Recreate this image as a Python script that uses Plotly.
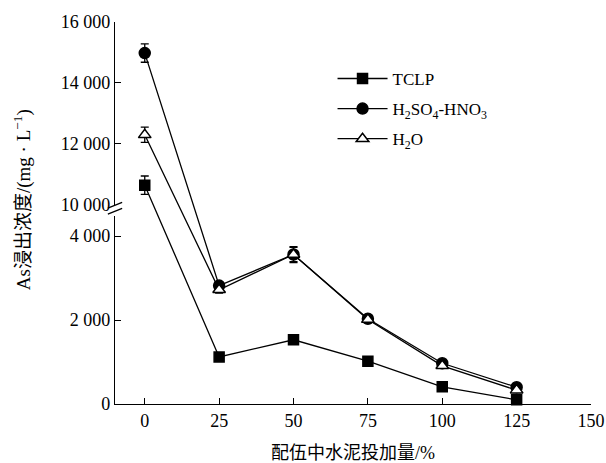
import plotly.graph_objects as go

# ---- data ----
dosage = [0, 25, 50, 75, 100, 125]
tclp = [10650, 1120, 1530, 1020, 410, 100]
tclp_err = [300, 40, 50, 40, 40, 60]
acid = [14980, 2820, 3560, 2030, 970, 400]
acid_err = [300, 80, 170, 80, 60, 50]
water = [12300, 2720, 3560, 2010, 910, 330]
water_err = [250, 80, 190, 80, 60, 60]

x_ticks = [0, 25, 50, 75, 100, 125, 150]
low_ticks = [0, 2000, 4000]
low_text = ["0", "2 000", "4 000"]
up_ticks = [10000, 12000, 14000, 16000]
up_text = ["10 000", "12 000", "14 000", "16 000"]

# ---- broken axis geometry ----
LOW_RANGE = (0, 4476)
LOW_DOM = (0.0, 0.492)
UP_RANGE = (10000, 16000)
UP_DOM = (0.521, 1.0)


def t(v):
    """map a data value onto the full-height helper axis (0..1)"""
    if v <= LOW_RANGE[1]:
        return LOW_DOM[0] + (v - LOW_RANGE[0]) / (LOW_RANGE[1] - LOW_RANGE[0]) * (LOW_DOM[1] - LOW_DOM[0])
    return UP_DOM[0] + (v - UP_RANGE[0]) / (UP_RANGE[1] - UP_RANGE[0]) * (UP_DOM[1] - UP_DOM[0])


SERIF = "Liberation Serif, Times New Roman, serif"
CJK = "Liberation Serif, Noto Sans CJK SC, serif"

fig = go.Figure()

# empty traces so that the lower and upper axis subplots get drawn
fig.add_trace(go.Scatter(x=[None], y=[None], xaxis="x", yaxis="y", showlegend=False, hoverinfo="skip"))
fig.add_trace(go.Scatter(x=[None], y=[None], xaxis="x", yaxis="y2", showlegend=False, hoverinfo="skip"))


def add_series(name, vals, errs, symbol, size, group, fill):
    y = [t(v) for v in vals]
    ep = [t(v + e) - t(v) for v, e in zip(vals, errs)]
    em = [t(v) - t(v - e) for v, e in zip(vals, errs)]
    fig.add_trace(go.Scatter(
        x=dosage, y=y, name=name, mode="lines+markers",
        xaxis="x", yaxis="y3", legendgroup=group,
        line=dict(color="black", width=1.3),
        marker=dict(symbol=symbol, size=size, color=fill,
                    line=dict(color="black", width=1.5)),
        error_y=dict(type="data", symmetric=False, array=ep, arrayminus=em,
                     color="black", thickness=1.3, width=4),
        cliponaxis=False,
    ))


add_series("TCLP", tclp, tclp_err, "square", 10, "a", "black")
add_series("H<sub>2</sub>SO<sub>4</sub>-HNO<sub>3</sub>", acid, acid_err, "circle", 11, "b", "black")
add_series("H<sub>2</sub>O", water, water_err, "triangle-up", 11, "c", "white")

axis_common = dict(showline=True, linecolor="black", linewidth=1.3, ticks="inside",
                   ticklen=6, tickwidth=1.3, tickcolor="black", showgrid=False,
                   zeroline=False, automargin=False,
                   tickfont=dict(family=SERIF, size=18, color="black"))

fig.update_layout(
    width=606, height=463,
    margin=dict(l=115, r=15, t=22, b=59, autoexpand=False),
    paper_bgcolor="white", plot_bgcolor="rgba(0,0,0,0)",
    showlegend=True,
    legend=dict(x=0.457, y=0.898, xanchor="left", yanchor="top",
                font=dict(family=SERIF, size=17, color="black"),
                bgcolor="rgba(0,0,0,0)", tracegroupgap=5, itemwidth=50),
    xaxis=dict(domain=[0, 1], range=[-10, 150], anchor="y", tickvals=x_ticks,
               ticktext=[str(v) for v in x_ticks], **axis_common),
    yaxis=dict(domain=list(LOW_DOM), range=list(LOW_RANGE), anchor="x",
               tickvals=low_ticks, ticktext=low_text, **axis_common),
    yaxis2=dict(domain=list(UP_DOM), range=list(UP_RANGE), anchor="x",
                tickvals=up_ticks, ticktext=up_text, **axis_common),
    yaxis3=dict(domain=[0, 1], range=[0, 1], anchor="x", visible=False,
                showgrid=False, zeroline=False),
)

fig.add_annotation(
    text="配伍中水泥投加量/%",
    xref="paper", yref="paper", x=0.5, y=-0.127, xanchor="center", yanchor="middle",
    showarrow=False, font=dict(family=CJK, size=18, color="black"))

fig.add_annotation(
    text="As浸出浓度/(mg · L<sup>−1</sup>)", textangle=-90,
    xref="paper", yref="paper", x=-0.195, y=0.534, xanchor="center", yanchor="middle",
    showarrow=False, font=dict(family=CJK, size=19, color="black"))

# break marks on the y axis
for dy in (0.0, 0.016):
    fig.add_shape(type="line", xref="paper", yref="paper",
                  x0=-0.015, x1=0.015, y0=0.497 + dy, y1=0.512 + dy,
                  line=dict(color="black", width=1.3))

fig.write_html("out.html")
